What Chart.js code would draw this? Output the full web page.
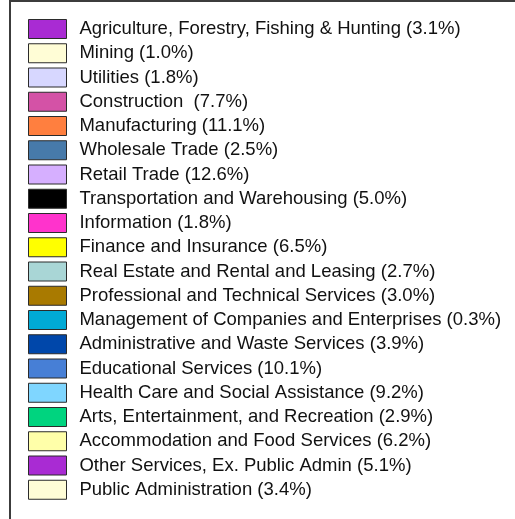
<!DOCTYPE html>
<html>
<head>
<meta charset="utf-8">
<script src="https://cdn.jsdelivr.net/npm/chart.js@4/dist/chart.umd.min.js"></script>
<style>
    html, body { margin: 0; padding: 0; background: #fff; overflow: hidden; }
    #wrap { position: relative; width: 1300px; height: 560px; }
</style>
</head>
<body>
<div id="wrap"><canvas id="pieCanvas"></canvas></div>
<script>
// industries and their share of the total (%)
var industries = [
    "Agriculture, Forestry, Fishing & Hunting",
    "Mining",
    "Utilities",
    "Construction ",
    "Manufacturing",
    "Wholesale Trade",
    "Retail Trade",
    "Transportation and Warehousing",
    "Information",
    "Finance and Insurance",
    "Real Estate and Rental and Leasing",
    "Professional and Technical Services",
    "Management of Companies and Enterprises",
    "Administrative and Waste Services",
    "Educational Services",
    "Health Care and Social Assistance",
    "Arts, Entertainment, and Recreation",
    "Accommodation and Food Services",
    "Other Services, Ex. Public Admin",
    "Public Administration"
];
var shares = [3.1, 1.0, 1.8, 7.7, 11.1, 2.5, 12.6, 5.0, 1.8, 6.5, 2.7, 3.0, 0.3, 3.9, 10.1, 9.2, 2.9, 6.2, 5.1, 3.4];
var sliceColors = [
    '#a92bd3', '#fffdd6', '#d7d7ff', '#d452a6', '#ff7f3f',
    '#477aaa', '#d6afff', '#000000', '#ff33cc', '#ffff00',
    '#a9d6d6', '#a97a00', '#00aad6', '#0047aa', '#477fd6',
    '#7fd6ff', '#00d47f', '#ffffa9', '#a92bd3', '#fffdd6'
];

// thin space keeps a bit more room between swatch and text
var labels = industries.map(function (name, i) {
    return '\u2009' + name + ' (' + shares[i].toFixed(1) + '%)';
});

// frame around the legend
var legendFrame = {
    id: 'legendFrame',
    beforeDraw: function (chart) {
        var ctx = chart.ctx;
        ctx.save();
        ctx.strokeStyle = '#3c3c3c';
        ctx.lineWidth = 2;
        ctx.strokeRect(10, 1, 1600, 1200);
        ctx.restore();
    }
};

window.onload = function () {
    var ctx = document.getElementById('pieCanvas').getContext('2d');
    window.myPie = new Chart(ctx, {
        type: 'pie',
        data: {
            labels: labels,
            datasets: [{
                data: shares,
                backgroundColor: sliceColors,
                borderColor: '#2b2b2b',
                borderWidth: 1
            }]
        },
        options: {
            responsive: true,
            maintainAspectRatio: false,
            animation: false,
            layout: { padding: { left: 23.25, top: 14.25, right: 10, bottom: 0 } },
            plugins: {
                tooltip: { enabled: false },
                legend: {
                    position: 'left',
                    align: 'start',
                    labels: {
                        boxWidth: 38,
                        boxHeight: 19,
                        padding: 5.25,
                        color: '#111',
                        font: { family: '"Liberation Sans", Arial, Helvetica, sans-serif', size: 18.5 }
                    }
                }
            }
        },
        plugins: [legendFrame]
    });
};
</script>
</body>
</html>
